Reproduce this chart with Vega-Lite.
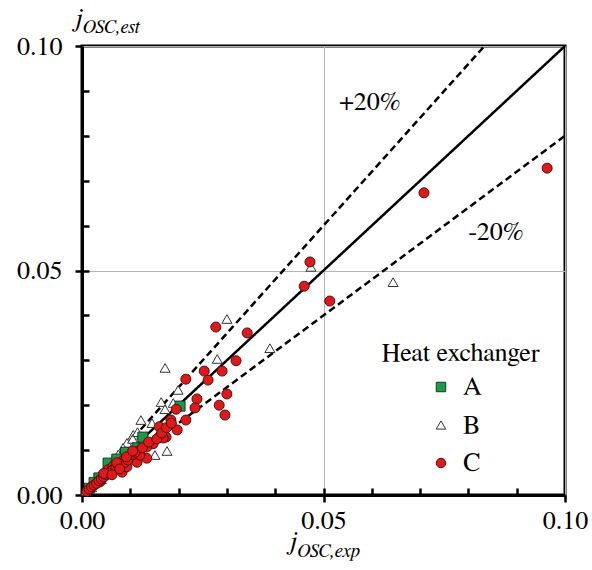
{
  "$schema": "https://vega.github.io/schema/vega-lite/v6.json",
  "width": 483,
  "height": 449,
  "autosize": {"type": "none"},
  "padding": {"left": 82, "top": 46, "right": 27, "bottom": 75},
  "background": "white",
  "config": {
    "view": {"stroke": "black", "strokeWidth": 3},
    "font": "FreeSerif"
  },
  "datasets": {
    "guides": [
      {"series": "1:1", "ex": 0, "est": 0},
      {"series": "1:1", "ex": 0.1, "est": 0.1},
      {"series": "+20%", "ex": 0, "est": 0},
      {"series": "+20%", "ex": 0.08333, "est": 0.1},
      {"series": "-20%", "ex": 0, "est": 0},
      {"series": "-20%", "ex": 0.1, "est": 0.08}
    ],
    "labels": [
      {"label": "+20%", "ex": 0.0596, "est": 0.0875},
      {"label": "-20%", "ex": 0.0857, "est": 0.0586},
      {"label": "Heat exchanger", "ex": 0.0784, "est": 0.0316}
    ],
    "titleMain": [
      {"label": "j", "ex": -0.0008, "est": 0.1042},
      {"label": "j", "ex": 0.0436, "est": -0.0122}
    ],
    "titleSub": [
      {"label": "OSC,est", "ex": 0.0002, "est": 0.1029},
      {"label": "OSC,exp", "ex": 0.0446, "est": -0.0137}
    ],
    "measurements": [
      {"hx": "B", "ex": 0.0644, "est": 0.0474},
      {"hx": "B", "ex": 0.0474, "est": 0.0508},
      {"hx": "B", "ex": 0.0389, "est": 0.0327},
      {"hx": "B", "ex": 0.030, "est": 0.0392},
      {"hx": "B", "ex": 0.028, "est": 0.0303},
      {"hx": "B", "ex": 0.0172, "est": 0.0283},
      {"hx": "B", "ex": 0.0199, "est": 0.0234},
      {"hx": "B", "ex": 0.0164, "est": 0.0207},
      {"hx": "B", "ex": 0.0172, "est": 0.0191},
      {"hx": "B", "ex": 0.0189, "est": 0.0205},
      {"hx": "B", "ex": 0.0122, "est": 0.0167},
      {"hx": "B", "ex": 0.0145, "est": 0.016},
      {"hx": "B", "ex": 0.0106, "est": 0.0134},
      {"hx": "B", "ex": 0.0151, "est": 0.0089},
      {"hx": "B", "ex": 0.0176, "est": 0.0098},
      {"hx": "B", "ex": 0.012, "est": 0.0096},
      {"hx": "B", "ex": 0.0093, "est": 0.0116},
      {"hx": "B", "ex": 0.0085, "est": 0.0105},
      {"hx": "B", "ex": 0.0075, "est": 0.009},
      {"hx": "B", "ex": 0.0065, "est": 0.0078},
      {"hx": "B", "ex": 0.0055, "est": 0.0065},
      {"hx": "B", "ex": 0.0045, "est": 0.0052},
      {"hx": "B", "ex": 0.0035, "est": 0.0042},
      {"hx": "B", "ex": 0.0025, "est": 0.003},
      {"hx": "B", "ex": 0.0015, "est": 0.0018},
      {"hx": "B", "ex": 0.0008, "est": 0.0009},
      {"hx": "B", "ex": 0.0105, "est": 0.0125},
      {"hx": "B", "ex": 0.0115, "est": 0.014},
      {"hx": "B", "ex": 0.0078, "est": 0.0075},
      {"hx": "B", "ex": 0.0058, "est": 0.005},
      {"hx": "B", "ex": 0.004, "est": 0.0035},
      {"hx": "B", "ex": 0.002, "est": 0.0017},
      {"hx": "A", "ex": 0.0203, "est": 0.0198},
      {"hx": "A", "ex": 0.0126, "est": 0.0129},
      {"hx": "A", "ex": 0.0054, "est": 0.0071},
      {"hx": "A", "ex": 0.0035, "est": 0.0038},
      {"hx": "A", "ex": 0.009, "est": 0.0095},
      {"hx": "A", "ex": 0.0025, "est": 0.0028},
      {"hx": "A", "ex": 0.0114, "est": 0.0105},
      {"hx": "A", "ex": 0.0072, "est": 0.008},
      {"hx": "A", "ex": 0.0015, "est": 0.0015},
      {"hx": "C", "ex": 0.0963, "est": 0.0728},
      {"hx": "C", "ex": 0.0708, "est": 0.0673},
      {"hx": "C", "ex": 0.0472, "est": 0.0519},
      {"hx": "C", "ex": 0.046, "est": 0.0465},
      {"hx": "C", "ex": 0.0513, "est": 0.0432},
      {"hx": "C", "ex": 0.0277, "est": 0.0374},
      {"hx": "C", "ex": 0.0342, "est": 0.0361},
      {"hx": "C", "ex": 0.0319, "est": 0.0299},
      {"hx": "C", "ex": 0.029, "est": 0.0276},
      {"hx": "C", "ex": 0.0253, "est": 0.0276},
      {"hx": "C", "ex": 0.0261, "est": 0.0256},
      {"hx": "C", "ex": 0.0215, "est": 0.0258},
      {"hx": "C", "ex": 0.030, "est": 0.0225},
      {"hx": "C", "ex": 0.0238, "est": 0.0214},
      {"hx": "C", "ex": 0.0284, "est": 0.020},
      {"hx": "C", "ex": 0.0296, "est": 0.0178},
      {"hx": "C", "ex": 0.0234, "est": 0.0194},
      {"hx": "C", "ex": 0.0195, "est": 0.0191},
      {"hx": "C", "ex": 0.0184, "est": 0.0167},
      {"hx": "C", "ex": 0.0215, "est": 0.0167},
      {"hx": "C", "ex": 0.0197, "est": 0.0145},
      {"hx": "C", "ex": 0.016, "est": 0.0152},
      {"hx": "C", "ex": 0.0174, "est": 0.0129},
      {"hx": "C", "ex": 0.016, "est": 0.0129},
      {"hx": "C", "ex": 0.0147, "est": 0.0114},
      {"hx": "C", "ex": 0.0134, "est": 0.0107},
      {"hx": "C", "ex": 0.012, "est": 0.01},
      {"hx": "C", "ex": 0.0101, "est": 0.0087},
      {"hx": "C", "ex": 0.0086, "est": 0.0078},
      {"hx": "C", "ex": 0.0068, "est": 0.0067},
      {"hx": "C", "ex": 0.0054, "est": 0.0056},
      {"hx": "C", "ex": 0.0037, "est": 0.0029},
      {"hx": "C", "ex": 0.0168, "est": 0.0127},
      {"hx": "C", "ex": 0.0099, "est": 0.0082},
      {"hx": "C", "ex": 0.0064, "est": 0.0063},
      {"hx": "C", "ex": 0.0083, "est": 0.0051},
      {"hx": "C", "ex": 0.0093, "est": 0.0063},
      {"hx": "C", "ex": 0.0114, "est": 0.0073},
      {"hx": "C", "ex": 0.0134, "est": 0.0082},
      {"hx": "C", "ex": 0.012, "est": 0.0089},
      {"hx": "C", "ex": 0.001, "est": 0.0008},
      {"hx": "C", "ex": 0.0015, "est": 0.0013},
      {"hx": "C", "ex": 0.002, "est": 0.0018},
      {"hx": "C", "ex": 0.0025, "est": 0.0022},
      {"hx": "C", "ex": 0.003, "est": 0.0026},
      {"hx": "C", "ex": 0.0035, "est": 0.0032},
      {"hx": "C", "ex": 0.004, "est": 0.0036},
      {"hx": "C", "ex": 0.0045, "est": 0.004},
      {"hx": "C", "ex": 0.005, "est": 0.0045},
      {"hx": "C", "ex": 0.0055, "est": 0.0048},
      {"hx": "C", "ex": 0.006, "est": 0.0052},
      {"hx": "C", "ex": 0.0065, "est": 0.0057},
      {"hx": "C", "ex": 0.007, "est": 0.006},
      {"hx": "C", "ex": 0.0075, "est": 0.0066},
      {"hx": "C", "ex": 0.008, "est": 0.007},
      {"hx": "C", "ex": 0.0088, "est": 0.0072},
      {"hx": "C", "ex": 0.0095, "est": 0.0078},
      {"hx": "C", "ex": 0.0105, "est": 0.009},
      {"hx": "C", "ex": 0.011, "est": 0.0095},
      {"hx": "C", "ex": 0.0125, "est": 0.0105},
      {"hx": "C", "ex": 0.0138, "est": 0.0118},
      {"hx": "C", "ex": 0.0155, "est": 0.0125},
      {"hx": "C", "ex": 0.0165, "est": 0.0138},
      {"hx": "C", "ex": 0.0175, "est": 0.015},
      {"hx": "C", "ex": 0.0185, "est": 0.016},
      {"hx": "C", "ex": 0.0045, "est": 0.0048},
      {"hx": "C", "ex": 0.0072, "est": 0.0072},
      {"hx": "C", "ex": 0.0092, "est": 0.0085},
      {"hx": "C", "ex": 0.0105, "est": 0.0098},
      {"hx": "C", "ex": 0.0078, "est": 0.0058},
      {"hx": "C", "ex": 0.0062, "est": 0.0045}
    ]
  },
  "resolve": {"axis": {"x": "independent", "y": "independent"}},
  "layer": [
    {
      "description": "1:1 line and the +/-20% band",
      "data": {"name": "guides"},
      "mark": {"type": "line", "color": "black", "strokeWidth": 2.5},
      "encoding": {
        "x": {
          "field": "ex", "type": "quantitative",
          "scale": {"domain": [0, 0.1], "nice": false, "zero": false},
          "axis": {
            "orient": "bottom", "values": [0, 0.05, 0.1], "format": ".2f", "title": null,
            "grid": true, "gridColor": "#b5b5b5", "gridWidth": 1,
            "tickSize": 7, "tickWidth": 2.5, "tickColor": "black",
            "domainColor": "black", "domainWidth": 3,
            "labelFont": "FreeSerif", "labelFontSize": 26, "labelColor": "black",
            "labelPadding": 5, "labelFlush": false
          }
        },
        "y": {
          "field": "est", "type": "quantitative",
          "scale": {"domain": [0, 0.1], "nice": false, "zero": false},
          "axis": {
            "orient": "left", "values": [0, 0.05, 0.1], "format": ".2f", "title": null,
            "grid": true, "gridColor": "#b5b5b5", "gridWidth": 1,
            "tickSize": 7, "tickWidth": 2.5, "tickColor": "black",
            "domainColor": "black", "domainWidth": 3,
            "labelFont": "FreeSerif", "labelFontSize": 26, "labelColor": "black",
            "labelPadding": 13, "labelFlush": false
          }
        },
        "detail": {"field": "series", "type": "nominal"},
        "strokeDash": {
          "field": "series", "type": "nominal",
          "scale": {"domain": ["1:1", "+20%", "-20%"], "range": [[1, 0], [7, 4], [7, 4]]},
          "legend": null
        }
      }
    },
    {
      "description": "measured vs estimated values per heat exchanger; inward minor ticks",
      "data": {"name": "measurements"},
      "mark": {"type": "point", "filled": true, "opacity": 1, "size": 100, "strokeWidth": 1},
      "encoding": {
        "x": {
          "field": "ex", "type": "quantitative",
          "scale": {"domain": [0, 0.1], "nice": false, "zero": false},
          "axis": {
            "orient": "top", "offset": -449, "values": [0.01, 0.02, 0.03, 0.04, 0.05, 0.06, 0.07, 0.08, 0.09],
            "labels": false, "title": null, "grid": false, "domain": false,
            "tickSize": 7, "tickWidth": 2.5, "tickColor": "black"
          }
        },
        "y": {
          "field": "est", "type": "quantitative",
          "scale": {"domain": [0, 0.1], "nice": false, "zero": false},
          "axis": {
            "orient": "right", "offset": -483, "values": [0.01, 0.02, 0.03, 0.04, 0.05, 0.06, 0.07, 0.08, 0.09],
            "labels": false, "title": null, "grid": false, "domain": false,
            "tickSize": 7, "tickWidth": 2.5, "tickColor": "black"
          }
        },
        "fill": {
          "field": "hx", "type": "nominal",
          "scale": {"domain": ["A", "B", "C"], "range": ["#1c9a4a", "#ffffff", "#dc1a1c"]},
          "legend": {
            "title": null, "orient": "none", "legendX": 346, "legendY": 328, "padding": 0,
            "labelFont": "FreeSerif", "labelFontSize": 26, "labelColor": "black",
            "symbolSize": 90, "symbolStrokeWidth": 1, "rowPadding": 12, "labelOffset": 9
          }
        },
        "stroke": {
          "field": "hx", "type": "nominal",
          "scale": {"domain": ["A", "B", "C"], "range": ["#0f3d20", "#333333", "#5a0a0a"]},
          "legend": {
            "title": null, "orient": "none", "legendX": 346, "legendY": 328, "padding": 0,
            "labelFont": "FreeSerif", "labelFontSize": 26, "labelColor": "black",
            "symbolSize": 90, "symbolStrokeWidth": 1, "rowPadding": 12, "labelOffset": 9
          }
        },
        "shape": {
          "field": "hx", "type": "nominal",
          "scale": {"domain": ["A", "B", "C"], "range": ["square", "triangle-up", "circle"]},
          "legend": {
            "title": null, "orient": "none", "legendX": 346, "legendY": 328, "padding": 0,
            "labelFont": "FreeSerif", "labelFontSize": 26, "labelColor": "black",
            "symbolSize": 90, "symbolStrokeWidth": 1, "rowPadding": 12, "labelOffset": 9
          }
        }
      }
    },
    {
      "description": "band labels and legend heading",
      "data": {"name": "labels"},
      "mark": {"type": "text", "fontSize": 26, "font": "FreeSerif", "align": "center", "baseline": "middle"},
      "encoding": {
        "x": {"field": "ex", "type": "quantitative", "scale": {"domain": [0, 0.1], "nice": false, "zero": false}, "axis": null},
        "y": {"field": "est", "type": "quantitative", "scale": {"domain": [0, 0.1], "nice": false, "zero": false}, "axis": null},
        "text": {"field": "label"}
      }
    },
    {
      "description": "axis symbol j",
      "data": {"name": "titleMain"},
      "mark": {"type": "text", "fontSize": 27, "font": "FreeSerif", "fontStyle": "italic", "align": "center", "baseline": "alphabetic"},
      "encoding": {
        "x": {"field": "ex", "type": "quantitative", "scale": {"domain": [0, 0.1], "nice": false, "zero": false}, "axis": null},
        "y": {"field": "est", "type": "quantitative", "scale": {"domain": [0, 0.1], "nice": false, "zero": false}, "axis": null},
        "text": {"field": "label"}
      }
    },
    {
      "description": "axis symbol subscripts",
      "data": {"name": "titleSub"},
      "mark": {"type": "text", "fontSize": 19, "font": "FreeSerif", "fontStyle": "italic", "align": "left", "baseline": "alphabetic"},
      "encoding": {
        "x": {"field": "ex", "type": "quantitative", "scale": {"domain": [0, 0.1], "nice": false, "zero": false}, "axis": null},
        "y": {"field": "est", "type": "quantitative", "scale": {"domain": [0, 0.1], "nice": false, "zero": false}, "axis": null},
        "text": {"field": "label"}
      }
    }
  ]
}
